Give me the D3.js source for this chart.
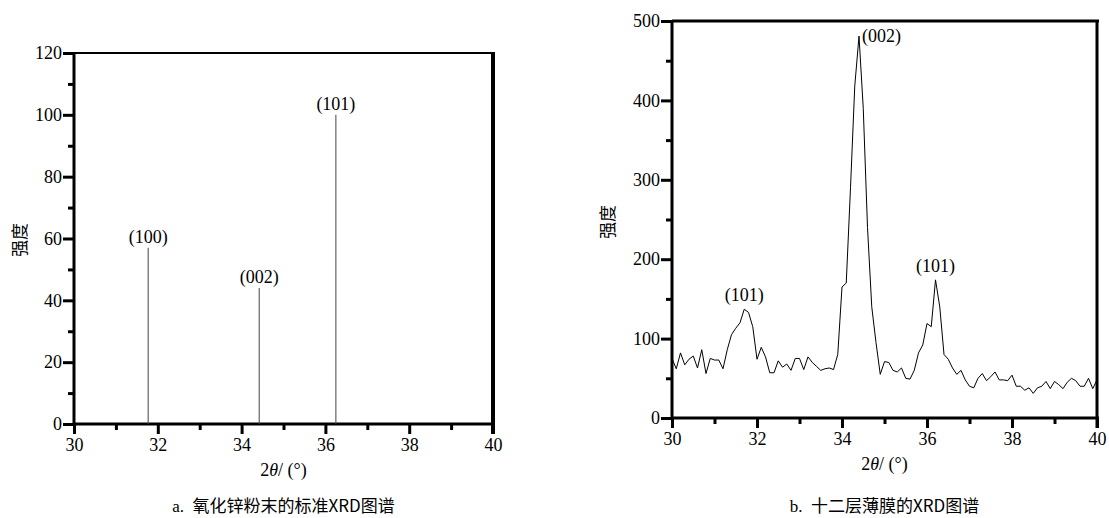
<!DOCTYPE html>
<html>
<head>
<meta charset="utf-8">
<script src="https://cdn.jsdelivr.net/npm/d3@7"></script>
<style>
  body { margin: 0; background: #fff; }
  svg text { font-family: "Liberation Serif", "Times New Roman", serif; fill: #000; }
  .cjk { font-family: "Noto Sans CJK SC", sans-serif; }
</style>
</head>
<body>
<svg id="chart" width="1109" height="518"></svg>
<script>
// ---- panel a: standard ZnO powder pattern (stick lines)
var stdAngles = [31.77, 34.42, 36.25];
var stdIntensity = [57, 44, 100];
var stdLabels = ["(100)", "(002)", "(101)"];

// ---- panel b: twelve-layer film, 2theta 30..40 step 0.1
var filmStart = 30, filmStep = 0.1;
var filmIntensity = [
  75, 62, 82, 67, 74, 78, 63, 86, 56, 75,      // 30.0 - 30.9
  73, 73, 62, 86, 105, 113, 120, 137, 133, 115, // 31.0 - 31.9
  74, 89, 77, 57, 57, 72, 64, 68, 60, 75,      // 32.0 - 32.9
  75, 61, 77, 70, 65, 60, 62, 63, 61, 80,      // 33.0 - 33.9
  165, 170, 290, 418, 481, 390, 240, 140, 95, 55, // 34.0 - 34.9
  71, 70, 60, 58, 63, 50, 49, 60, 82, 92,      // 35.0 - 35.9
  119, 115, 174, 140, 80, 74, 63, 55, 60, 48,  // 36.0 - 36.9
  40, 38, 50, 56, 47, 52, 58, 48, 48, 47,      // 37.0 - 37.9
  54, 40, 40, 35, 38, 31, 38, 40, 46, 37,      // 38.0 - 38.9
  46, 42, 37, 45, 50, 47, 40, 40, 50, 37,      // 39.0 - 39.9
  48                                            // 40.0
];
var filmPeakAngles = [31.7, 34.4, 36.2];
var filmPeakIntensity = [137, 481, 174];
var filmPeakLabels = ["(101)", "(002)", "(101)"];

var xMajor = [30, 32, 34, 36, 38, 40];
var xMinor = [31, 33, 35, 37, 39];

var svg = d3.select("#chart");

// draws the frame, axes and titles of one panel, returns scales and group
function drawFrame(box, yMax, yMajor, yMinor, capTag, capText) {
  var g = svg.append("g");
  var x = d3.scaleLinear().domain([30, 40]).range([box.left, box.right]);
  var y = d3.scaleLinear().domain([0, yMax]).range([box.bottom, box.top]);

  // minor ticks
  g.append("g").attr("transform", "translate(" + box.left + ",0)")
    .call(d3.axisLeft(y).tickValues(yMinor).tickSize(6).tickSizeOuter(0).tickFormat(""));
  g.append("g").attr("transform", "translate(0," + box.bottom + ")")
    .call(d3.axisBottom(x).tickValues(xMinor).tickSize(6).tickSizeOuter(0).tickFormat(""));
  // major ticks
  g.append("g").attr("transform", "translate(" + box.left + ",0)")
    .call(d3.axisLeft(y).tickValues(yMajor).tickSize(11).tickPadding(1).tickSizeOuter(0));
  g.append("g").attr("transform", "translate(0," + box.bottom + ")")
    .call(d3.axisBottom(x).tickValues(xMajor).tickSize(10).tickPadding(4).tickSizeOuter(0));

  g.selectAll(".domain").remove();
  g.selectAll("g").attr("font-family", "Liberation Serif").attr("font-size", 18);
  g.selectAll(".tick line").attr("stroke", "#000").attr("stroke-width", 3);
  g.selectAll(".tick text").attr("fill", "#000");

  // frame: left and bottom axis, top and right border
  g.append("line").attr("x1", box.left).attr("x2", box.left)
    .attr("y1", box.top - 1).attr("y2", box.bottom + 1.5)
    .attr("stroke", "#000").attr("stroke-width", 3);
  g.append("line").attr("x1", box.left).attr("x2", box.right + 2)
    .attr("y1", box.bottom).attr("y2", box.bottom)
    .attr("stroke", "#000").attr("stroke-width", 3);
  g.append("line").attr("x1", box.left).attr("x2", box.right + 2)
    .attr("y1", box.top).attr("y2", box.top)
    .attr("stroke", "#000").attr("stroke-width", box.topW);
  g.append("line").attr("x1", box.right).attr("x2", box.right)
    .attr("y1", box.top).attr("y2", box.bottom + 10)
    .attr("stroke", "#000").attr("stroke-width", box.rightW);

  // axis titles
  var xt = g.append("text")
    .attr("x", (box.left + box.right) / 2)
    .attr("y", box.bottom + 52)
    .attr("text-anchor", "middle")
    .style("font-size", "18px");
  xt.append("tspan").text("2");
  xt.append("tspan").style("font-style", "italic").text("θ");
  xt.append("tspan").text("/ (°)");

  g.append("text").attr("class", "cjk")
    .attr("transform", "translate(" + box.ylabX + "," + box.ylabY + ") rotate(-90)")
    .attr("text-anchor", "middle")
    .style("font-size", "17px")
    .text("强度");

  var cap = g.append("text")
    .attr("x", (box.left + box.right) / 2)
    .attr("y", 512)
    .attr("text-anchor", "middle")
    .style("font-size", "17px");
  cap.append("tspan").text(capTag + "\u00a0\u00a0");
  cap.append("tspan").attr("class", "cjk").text(capText);

  return {g: g, x: x, y: y};
}

// ---- panel a
var pa = drawFrame({left: 74, right: 493, top: 53, bottom: 424, topW: 2, rightW: 4, ylabX: 26, ylabY: 240},
  120, d3.range(0, 121, 20), d3.range(10, 120, 20), "a.", "氧化锌粉末的标准XRD图谱");

pa.g.selectAll(".stick").data(stdAngles).enter().append("line")
  .attr("class", "stick")
  .attr("x1", function(d) { return pa.x(d); })
  .attr("x2", function(d) { return pa.x(d); })
  .attr("y1", pa.y(0))
  .attr("y2", function(d, i) { return pa.y(stdIntensity[i]); })
  .attr("stroke", "#444").attr("stroke-width", 1);

pa.g.selectAll(".slab").data(stdLabels).enter().append("text")
  .attr("class", "slab")
  .attr("x", function(d, i) { return pa.x(stdAngles[i]); })
  .attr("y", function(d, i) { return pa.y(stdIntensity[i]) - 5; })
  .attr("text-anchor", "middle")
  .style("font-size", "18px")
  .text(function(d) { return d; });

// ---- panel b
var pb = drawFrame({left: 672, right: 1097, top: 21, bottom: 418, topW: 3, rightW: 3, ylabX: 614, ylabY: 222},
  500, d3.range(0, 501, 100), d3.range(50, 500, 100), "b.", "十二层薄膜的XRD图谱");

var line = d3.line()
  .x(function(d, i) { return pb.x(filmStart + i * filmStep); })
  .y(function(d) { return pb.y(d); });

pb.g.append("path").datum(filmIntensity)
  .attr("d", line)
  .attr("fill", "none")
  .attr("stroke", "#000")
  .attr("stroke-width", 1);

pb.g.selectAll(".plab").data(filmPeakLabels).enter().append("text")
  .attr("class", "plab")
  .attr("x", function(d, i) { return pb.x(filmPeakAngles[i]) + (i == 1 ? 3 : 0); })
  .attr("y", function(d, i) { return pb.y(filmPeakIntensity[i]) + (i == 1 ? 6 : -8); })
  .attr("text-anchor", function(d, i) { return i == 1 ? "start" : "middle"; })
  .style("font-size", "18px")
  .text(function(d) { return d; });
</script>
</body>
</html>
